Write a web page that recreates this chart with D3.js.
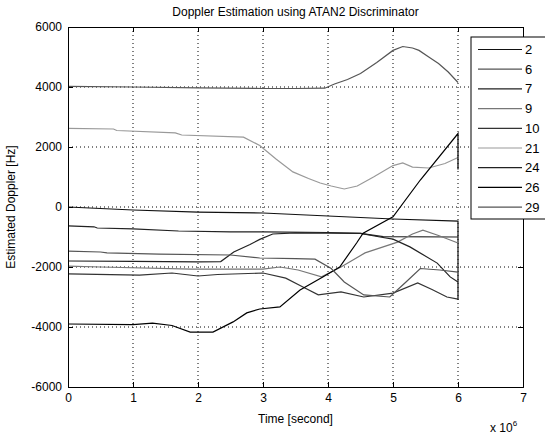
<!DOCTYPE html>
<html>
<head>
<meta charset="utf-8">
<script src="https://cdn.jsdelivr.net/npm/d3@7"></script>
<style>
  body { margin: 0; background: #fff; }
  text { font-family: "Liberation Sans", Arial, sans-serif; fill: #000; }
</style>
</head>
<body>
<div id="chart"></div>
<script>
// time in units of 1e6 seconds, doppler in Hz
const prn2  = [[0,0],[1,-100],[2,-170],[3,-200],[4,-300],[5,-400],[6,-470],[6,-3100]];
const prn6  = [[0,4020],[1,4000],[2,3970],[3,3950],[3.5,3950],[3.95,3960],[4.1,4100],[4.3,4250],[4.5,4450],[4.75,4820],[5.0,5220],[5.15,5350],[5.3,5300],[5.4,5220],[5.55,5000],[5.7,4780],[5.85,4500],[6,4150]];
const prn7  = [[0,-630],[0.4,-660],[0.45,-700],[1,-730],[1.7,-800],[2.5,-830],[3,-830],[4,-850],[4.5,-880],[4.85,-990],[6,-1000]];
const prn9  = [[0,-1970],[0.5,-2000],[1.9,-2070],[3.0,-2070],[3.26,-2000],[3.54,-2100],[3.9,-2330],[4.2,-2000],[4.57,-1530],[5.07,-1170],[5.3,-900],[5.46,-770],[5.7,-950],[6,-1200]];
const prn10 = [[0,-2230],[1.1,-2270],[1.6,-2200],[2.0,-2300],[2.3,-2250],[3.0,-2200],[3.35,-2370],[3.6,-2650],[3.85,-2930],[4.2,-2830],[4.55,-3000],[5.0,-2870],[5.38,-2530],[5.6,-2750],[5.83,-3000],[6,-3070]];
const prn21 = [[0,2620],[0.7,2600],[0.75,2550],[1.65,2470],[1.75,2400],[2.7,2330],[2.95,2050],[3.2,1600],[3.46,1170],[3.7,950],[3.88,800],[4.05,700],[4.25,600],[4.45,700],[4.7,1000],[5.0,1380],[5.15,1470],[5.3,1330],[5.55,1300],[5.8,1450],[6,1650]];
const prn24 = [[0,-1800],[1,-1810],[2,-1830],[2.35,-1820],[2.55,-1500],[2.8,-1250],[2.95,-1080],[3.15,-900],[3.5,-860],[4.5,-880],[4.8,-1000],[5.0,-1070],[5.26,-1330],[5.68,-1870],[5.88,-2330],[6,-2500]];
const prn26 = [[0,-3900],[1.0,-3920],[1.3,-3870],[1.6,-3950],[1.88,-4170],[2.23,-4170],[2.54,-3830],[2.75,-3530],[2.95,-3400],[3.26,-3330],[3.57,-2770],[3.92,-2330],[4.18,-2000],[4.44,-1200],[4.54,-870],[5.0,-330],[5.42,900],[6,2450],[6,1250]];
const prn29 = [[0,-1470],[0.5,-1500],[0.6,-1530],[1.4,-1570],[2.5,-1600],[2.95,-1700],[3.5,-1720],[3.8,-1740],[4.05,-2050],[4.25,-2500],[4.55,-2930],[4.95,-3000],[5.2,-2500],[5.42,-2050],[5.72,-2100],[6,-2170]];

const prnNames = ["2", "6", "7", "9", "10", "21", "24", "26", "29"];
const prnData = [prn2, prn6, prn7, prn9, prn10, prn21, prn24, prn26, prn29];
const prnColors = ["#111", "#555", "#222", "#777", "#333", "#999", "#222", "#000", "#555"];

const xTicks = [0, 1, 2, 3, 4, 5, 6, 7];
const yTicks = [-6000, -4000, -2000, 0, 2000, 4000, 6000];

const W = 545, H = 436;
const margin = {top: 27, right: 22, bottom: 49, left: 68};
const width = W - margin.left - margin.right,
      height = H - margin.top - margin.bottom;

const svg = d3.select("#chart").append("svg")
  .attr("width", W).attr("height", H)
  .style("background", "#fff");

const g = svg.append("g")
  .attr("transform", "translate(" + margin.left + "," + margin.top + ")");

const x = d3.scaleLinear().domain([0, 7]).range([0, width]);
const y = d3.scaleLinear().domain([-6000, 6000]).range([height, 0]);

// grid
g.append("g").selectAll("line").data(xTicks.slice(1, -1)).enter().append("line")
  .attr("x1", d => x(d)).attr("x2", d => x(d))
  .attr("y1", 0).attr("y2", height)
  .attr("stroke", "#000").attr("stroke-dasharray", "1,3");
g.append("g").selectAll("line").data(yTicks.slice(1, -1)).enter().append("line")
  .attr("x1", 0).attr("x2", width)
  .attr("y1", d => y(d)).attr("y2", d => y(d))
  .attr("stroke", "#000").attr("stroke-dasharray", "1,3");

// series
const line = d3.line().x(d => x(d[0])).y(d => y(d[1]));
g.append("g").selectAll("path").data(prnData).enter().append("path")
  .attr("d", line)
  .attr("fill", "none")
  .attr("stroke", (d, i) => prnColors[i])
  .attr("stroke-width", 1.2);

// axes (ticks inside, mirrored)
const fmt = d => String(d);
g.append("g").attr("transform", "translate(0," + height + ")")
  .call(d3.axisBottom(x).tickValues(xTicks).tickFormat(fmt).tickSize(-5).tickPadding(6));
g.append("g")
  .call(d3.axisTop(x).tickValues(xTicks).tickFormat("").tickSize(-5));
g.append("g")
  .call(d3.axisLeft(y).tickValues(yTicks).tickFormat(fmt).tickSize(-5).tickPadding(6));
g.append("g").attr("transform", "translate(" + width + ",0)")
  .call(d3.axisRight(y).tickValues(yTicks).tickFormat("").tickSize(-5));

g.selectAll(".domain").attr("stroke", "#000");
g.selectAll(".tick line").attr("stroke", "#000");
g.selectAll(".tick text").style("font-size", "12px")
  .style("font-family", "'Liberation Sans', Arial, sans-serif");

// titles
svg.append("text")
  .attr("x", margin.left + width / 2).attr("y", 16)
  .attr("text-anchor", "middle").style("font-size", "12px")
  .text("Doppler Estimation using ATAN2 Discriminator");
svg.append("text")
  .attr("x", margin.left + width / 2).attr("y", 423)
  .attr("text-anchor", "middle").style("font-size", "12px")
  .text("Time [second]");
svg.append("text")
  .attr("transform", "translate(15," + (margin.top + height / 2) + ") rotate(-90)")
  .attr("text-anchor", "middle").style("font-size", "12px")
  .text("Estimated Doppler [Hz]");
const sci = svg.append("text").attr("x", 490).attr("y", 432).style("font-size", "12px");
sci.append("tspan").text("x 10");
sci.append("tspan").attr("dy", -6).style("font-size", "8px").text("6");

// legend
const leg = svg.append("g").attr("transform", "translate(471,37)");
leg.append("rect").attr("width", 80).attr("height", 182)
  .attr("fill", "#fff").attr("stroke", "#000");
const item = leg.selectAll("g").data(prnNames).enter().append("g")
  .attr("transform", (d, i) => "translate(0," + (12.5 + i * 19.7) + ")");
item.append("line").attr("x1", 7).attr("x2", 51)
  .attr("stroke", (d, i) => prnColors[i]).attr("stroke-width", 1.2);
item.append("text").attr("x", 54).attr("y", 4.5)
  .style("font-size", "13px").text(d => d);
</script>
</body>
</html>
